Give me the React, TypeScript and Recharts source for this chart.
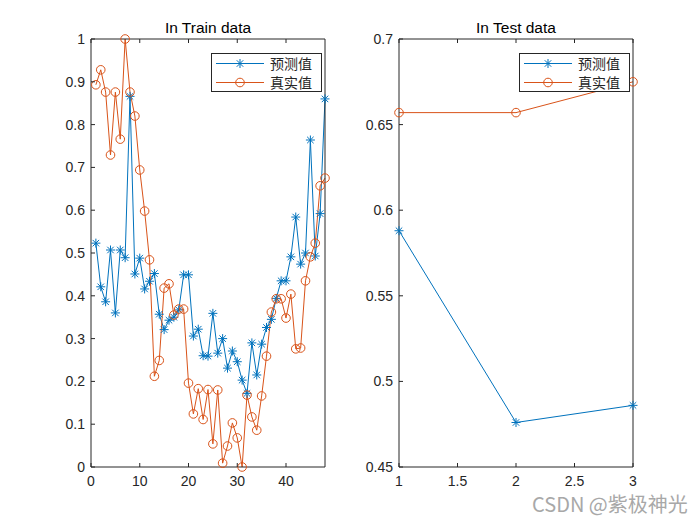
import React from 'react';
import { LineChart, Line, XAxis, YAxis, Legend } from 'recharts';

// ---------- data ----------
const trainIndex = [1, 2, 3, 4, 5, 6, 7, 8, 9, 10, 11, 12, 13, 14, 15, 16, 17, 18, 19, 20, 21, 22, 23, 24,
  25, 26, 27, 28, 29, 30, 31, 32, 33, 34, 35, 36, 37, 38, 39, 40, 41, 42, 43, 44, 45, 46, 47, 48];
const trainPred = [0.523, 0.421, 0.386, 0.507, 0.36, 0.507, 0.489, 0.866, 0.451, 0.488, 0.416, 0.434,
  0.452, 0.357, 0.321, 0.343, 0.35, 0.367, 0.449, 0.449, 0.306, 0.322, 0.26, 0.259, 0.359, 0.266, 0.3,
  0.231, 0.271, 0.246, 0.203, 0.172, 0.29, 0.215, 0.287, 0.326, 0.345, 0.394, 0.435, 0.435, 0.491, 0.584,
  0.474, 0.5, 0.764, 0.493, 0.592, 0.86];
const trainTrue = [0.893, 0.928, 0.876, 0.729, 0.876, 0.766, 1.0, 0.876, 0.82, 0.694, 0.598, 0.484, 0.212,
  0.249, 0.418, 0.428, 0.355, 0.369, 0.369, 0.196, 0.124, 0.183, 0.111, 0.181, 0.054, 0.18, 0.009, 0.049,
  0.103, 0.068, 0.0, 0.168, 0.117, 0.086, 0.166, 0.259, 0.362, 0.393, 0.393, 0.348, 0.404, 0.276, 0.278,
  0.435, 0.491, 0.523, 0.657, 0.675];

const testIndex = [1, 2, 3];
const testPred = [0.588, 0.476, 0.486];
const testTrue = [0.657, 0.657, 0.675];

const trainXTicks = [0, 10, 20, 30, 40];
const trainYTicks = [0, 0.1, 0.2, 0.3, 0.4, 0.5, 0.6, 0.7, 0.8, 0.9, 1];
const testXTicks = [1, 1.5, 2, 2.5, 3];
const testYTicks = [0.45, 0.5, 0.55, 0.6, 0.65, 0.7];

const seriesNames = ['预测值', '真实值'];
const titles = ['In Train data', 'In Test data'];
const watermark = 'CSDN @紫极神光';

// ---------- style ----------
const BLUE = '#0072BD';
const ORANGE = '#D95319';
const AXIS = '#262626';
const FONT = '"Liberation Sans", Arial, Helvetica, sans-serif';
const CJK = '"Noto Sans CJK SC", "Noto Sans", sans-serif';
const TICK_LEN = 4;

type Side = 'bottom' | 'top' | 'left' | 'right';

function makeTick(side: Side, showLabel: boolean) {
  return (props: any) => {
    const { x, y, payload } = props;
    const v = payload.value;
    let c = [x, y, x, y];
    if (side === 'bottom') c = [x, y, x, y - TICK_LEN];
    if (side === 'top') c = [x, y, x, y + TICK_LEN];
    if (side === 'left') c = [x, y, x + TICK_LEN, y];
    if (side === 'right') c = [x, y, x - TICK_LEN, y];
    return (
      <g>
        <line x1={c[0]} y1={c[1]} x2={c[2]} y2={c[3]} stroke={AXIS} strokeWidth={1} />
        {showLabel && side === 'bottom' && (
          <text x={x} y={y + 19} textAnchor="middle" fontFamily={FONT} fontSize={14} fill={AXIS}>
            {String(v)}
          </text>
        )}
        {showLabel && side === 'left' && (
          <text x={x - 6} y={y} dy="0.36em" textAnchor="end" fontFamily={FONT} fontSize={14} fill={AXIS}>
            {String(v)}
          </text>
        )}
      </g>
    );
  };
}

const StarMark = ({ cx, cy, color }: { cx: number; cy: number; color: string }) => {
  const r = 4.5;
  const d = r * 0.72;
  return (
    <g stroke={color} strokeWidth={1} fill="none">
      <line x1={cx - r} y1={cy} x2={cx + r} y2={cy} />
      <line x1={cx} y1={cy - r} x2={cx} y2={cy + r} />
      <line x1={cx - d} y1={cy - d} x2={cx + d} y2={cy + d} />
      <line x1={cx - d} y1={cy + d} x2={cx + d} y2={cy - d} />
    </g>
  );
};

const CircleMark = ({ cx, cy, color }: { cx: number; cy: number; color: string }) => (
  <circle cx={cx} cy={cy} r={4.3} stroke={color} strokeWidth={1} fill="none" />
);

const starDot = (p: any) =>
  p.cx == null ? <g key={`s${p.index}`} /> : <StarMark key={`s${p.index}`} cx={p.cx} cy={p.cy} color={BLUE} />;
const circleDot = (p: any) =>
  p.cx == null ? <g key={`c${p.index}`} /> : <CircleMark key={`c${p.index}`} cx={p.cx} cy={p.cy} color={ORANGE} />;

const LegendBox = () => (
  <div
    style={{
      width: 111,
      height: 39,
      boxSizing: 'border-box',
      border: `1px solid ${AXIS}`,
      background: '#fff',
      position: 'relative',
    }}
  >
    {[0, 1].map((i) => (
      <div key={i} style={{ position: 'absolute', left: 0, top: i === 0 ? 0 : 19, height: 19, width: 109 }}>
        <svg width={58} height={19} style={{ position: 'absolute', left: 0, top: 0 }}>
          <line x1={4} y1={9.5} x2={52} y2={9.5} stroke={i === 0 ? BLUE : ORANGE} strokeWidth={1} />
          {i === 0 ? <StarMark cx={28} cy={9.5} color={BLUE} /> : <CircleMark cx={28} cy={9.5} color={ORANGE} />}
        </svg>
        <span
          style={{
            position: 'absolute',
            left: 58,
            top: 0,
            lineHeight: '19px',
            fontFamily: CJK,
            fontSize: 14,
            color: AXIS,
            whiteSpace: 'nowrap',
          }}
        >
          {seriesNames[i]}
        </span>
      </div>
    ))}
  </div>
);

interface PanelProps {
  xs: number[];
  pred: number[];
  truth: number[];
  xDomain: [number, number];
  yDomain: [number, number];
  xTicks: number[];
  yTicks: number[];
  yAxisWidth: number;
  marginRight: number;
  legendLeft: number;
}

const Panel = (p: PanelProps) => {
  const data = p.xs.map((x, i) => ({ x, pred: p.pred[i], truth: p.truth[i] }));
  return (
    <LineChart
      width={350}
      height={525}
      data={data}
      margin={{ top: 38, left: 0, right: p.marginRight, bottom: 28 }}
    >
      <XAxis
        xAxisId="b"
        dataKey="x"
        type="number"
        domain={p.xDomain}
        ticks={p.xTicks}
        interval={0}
        height={30}
        tickSize={0}
        tickMargin={0}
        tickLine={false}
        axisLine={{ stroke: AXIS, strokeWidth: 1 }}
        tick={makeTick('bottom', true)}
      />
      <XAxis
        xAxisId="t"
        orientation="top"
        dataKey="x"
        type="number"
        domain={p.xDomain}
        ticks={p.xTicks}
        interval={0}
        height={1}
        tickSize={0}
        tickMargin={0}
        tickLine={false}
        axisLine={{ stroke: AXIS, strokeWidth: 1 }}
        tick={makeTick('top', false)}
      />
      <YAxis
        yAxisId="l"
        type="number"
        domain={p.yDomain}
        ticks={p.yTicks}
        interval={0}
        width={p.yAxisWidth}
        tickSize={0}
        tickMargin={0}
        tickLine={false}
        axisLine={{ stroke: AXIS, strokeWidth: 1 }}
        tick={makeTick('left', true)}
      />
      <YAxis
        yAxisId="r"
        orientation="right"
        type="number"
        domain={p.yDomain}
        ticks={p.yTicks}
        interval={0}
        width={1}
        tickSize={0}
        tickMargin={0}
        tickLine={false}
        axisLine={{ stroke: AXIS, strokeWidth: 1 }}
        tick={makeTick('right', false)}
      />
      <Line
        xAxisId="b"
        yAxisId="l"
        dataKey="pred"
        name={seriesNames[0]}
        stroke={BLUE}
        strokeWidth={1}
        dot={starDot}
        activeDot={false}
        isAnimationActive={false}
      />
      <Line
        xAxisId="b"
        yAxisId="l"
        dataKey="truth"
        name={seriesNames[1]}
        stroke={ORANGE}
        strokeWidth={1}
        dot={circleDot}
        activeDot={false}
        isAnimationActive={false}
      />
      <Legend
        layout="vertical"
        align="center"
        verticalAlign="middle"
        content={() => <LegendBox />}
        wrapperStyle={{ left: p.legendLeft, top: 53, width: 111, height: 39, right: 'auto', bottom: 'auto' }}
      />
    </LineChart>
  );
};

const titleStyle = (center: number): React.CSSProperties => ({
  position: 'absolute',
  left: center - 100,
  width: 200,
  top: 20,
  textAlign: 'center',
  fontFamily: FONT,
  fontSize: 15.5,
  lineHeight: '15.5px',
  color: '#000',
  whiteSpace: 'nowrap',
});

export default function App() {
  return (
    <div style={{ position: 'absolute', left: 0, top: 0, width: 700, height: 525, background: '#fff', overflow: 'hidden' }}>
      <div style={{ position: 'absolute', left: 0, top: 0 }}>
        <Panel
          xs={trainIndex}
          pred={trainPred}
          truth={trainTrue}
          xDomain={[0, 48]}
          yDomain={[0, 1]}
          xTicks={trainXTicks}
          yTicks={trainYTicks}
          yAxisWidth={91}
          marginRight={24}
          legendLeft={211}
        />
      </div>
      <div style={{ position: 'absolute', left: 350, top: 0 }}>
        <Panel
          xs={testIndex}
          pred={testPred}
          truth={testTrue}
          xDomain={[1, 3]}
          yDomain={[0.45, 0.7]}
          xTicks={testXTicks}
          yTicks={testYTicks}
          yAxisWidth={49}
          marginRight={66}
          legendLeft={169}
        />
      </div>
      <div style={titleStyle(208)}>{titles[0]}</div>
      <div style={titleStyle(516)}>{titles[1]}</div>
      <div
        style={{
          position: 'absolute',
          left: 532,
          top: 493,
          fontFamily: CJK,
          fontSize: 20,
          lineHeight: '22px',
          color: '#a8a8a8',
          whiteSpace: 'nowrap',
        }}
      >
        {watermark}
      </div>
    </div>
  );
}
